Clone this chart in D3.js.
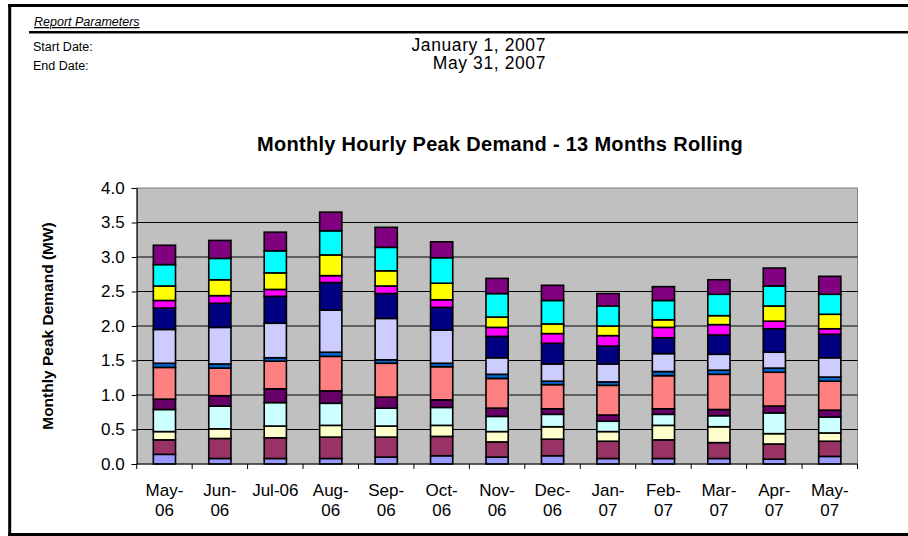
<!DOCTYPE html>
<html><head><meta charset="utf-8">
<script src="https://cdn.jsdelivr.net/npm/d3@7"></script>
<style>
html,body{margin:0;padding:0;background:#fff;}
svg{display:block;font-family:"Liberation Sans",Arial,sans-serif;}
</style></head>
<body>
<svg id="chart" width="908" height="536"></svg>
<script>
// ---- data ----
const categories = ["May-06","Jun-06","Jul-06","Aug-06","Sep-06","Oct-06","Nov-06","Dec-06","Jan-07","Feb-07","Mar-07","Apr-07","May-07"];
const tickLabels = [["May-","06"],["Jun-","06"],["Jul-06"],["Aug-","06"],["Sep-","06"],["Oct-","06"],["Nov-","06"],["Dec-","06"],["Jan-","07"],["Feb-","07"],["Mar-","07"],["Apr-","07"],["May-","07"]];
const yTicks = [0,0.5,1.0,1.5,2.0,2.5,3.0,3.5,4.0];
const seriesNames = ["Series 1","Series 2","Series 3","Series 4","Series 5","Series 6","Series 7","Series 8","Series 9","Series 10","Series 11","Series 12","Series 13"];
const series1  = [0.14,0.08,0.08,0.08,0.10,0.12,0.10,0.12,0.08,0.08,0.08,0.07,0.11];
const series2  = [0.21,0.29,0.30,0.31,0.29,0.28,0.22,0.24,0.25,0.27,0.23,0.22,0.22];
const series3  = [0.12,0.14,0.17,0.17,0.16,0.16,0.15,0.18,0.14,0.21,0.23,0.15,0.12];
const series4  = [0.32,0.33,0.34,0.32,0.26,0.26,0.22,0.18,0.15,0.16,0.16,0.30,0.23];
const series5  = [0.15,0.15,0.20,0.18,0.16,0.11,0.12,0.08,0.09,0.08,0.09,0.10,0.10];
const series6  = [0.46,0.40,0.40,0.50,0.49,0.48,0.43,0.35,0.43,0.48,0.51,0.49,0.42];
const series7  = [0.06,0.06,0.05,0.06,0.05,0.05,0.06,0.05,0.05,0.06,0.06,0.06,0.06];
const series8  = [0.49,0.53,0.50,0.61,0.60,0.48,0.24,0.25,0.26,0.26,0.23,0.23,0.28];
const series9  = [0.31,0.35,0.39,0.40,0.36,0.33,0.31,0.30,0.26,0.23,0.28,0.34,0.34];
const series10 = [0.11,0.11,0.10,0.10,0.11,0.11,0.13,0.14,0.15,0.15,0.15,0.11,0.08];
const series11 = [0.21,0.23,0.24,0.30,0.22,0.24,0.15,0.14,0.14,0.11,0.13,0.22,0.21];
const series12 = [0.31,0.31,0.32,0.35,0.34,0.37,0.34,0.34,0.29,0.28,0.31,0.29,0.29];
const series13 = [0.28,0.26,0.27,0.27,0.29,0.23,0.22,0.22,0.18,0.20,0.21,0.26,0.26];
const seriesValues = [series1,series2,series3,series4,series5,series6,series7,series8,series9,series10,series11,series12,series13];
const colors = ["#9999FF","#993366","#FFFFCC","#CCFFFF","#660066","#FF8080","#0066CC","#CCCCFF","#000080","#FF00FF","#FFFF00","#00FFFF","#800080"];

// ---- layout ----
const svg = d3.select("#chart");
svg.append("rect").attr("width",908).attr("height",536).attr("fill","#fff");

// frame lines
svg.append("line").attr("x1",8).attr("x2",908).attr("y1",5.5).attr("y2",5.5).attr("stroke","#000").attr("stroke-width",3);
svg.append("line").attr("x1",9.7).attr("x2",9.7).attr("y1",4).attr("y2",536).attr("stroke","#000").attr("stroke-width",3);
svg.append("line").attr("x1",8).attr("x2",908).attr("y1",534.5).attr("y2",534.5).attr("stroke","#000").attr("stroke-width",3);
svg.append("line").attr("x1",29).attr("x2",908).attr("y1",32).attr("y2",32).attr("stroke","#000").attr("stroke-width",2);
svg.append("line").attr("x1",29).attr("x2",908).attr("y1",33.5).attr("y2",33.5).attr("stroke","#888").attr("stroke-width",1);

// header text
svg.append("text").attr("x",34).attr("y",26).attr("font-size",12.5).attr("font-style","italic")
  .attr("text-decoration","underline").text("Report Parameters");
svg.append("text").attr("x",33).attr("y",51).attr("font-size",12.5).text("Start Date:");
svg.append("text").attr("x",33).attr("y",70).attr("font-size",12.5).text("End Date:");
svg.append("text").attr("x",546).attr("y",51).attr("font-size",17.5).attr("letter-spacing",0.6).attr("text-anchor","end").text("January 1, 2007");
svg.append("text").attr("x",546).attr("y",69).attr("font-size",17.5).attr("letter-spacing",0.6).attr("text-anchor","end").text("May 31, 2007");

// title
svg.append("text").attr("x",500).attr("y",151).attr("font-size",20).attr("font-weight","bold")
  .attr("letter-spacing",0.3).attr("text-anchor","middle")
  .text("Monthly Hourly Peak Demand - 13 Months Rolling");

// plot
const pLeft = 136.7, pRight = 857.5, pTop = 188, pBottom = 464;
const x = d3.scaleBand().domain(categories).range([pLeft,pRight]).paddingInner(0.6).paddingOuter(0.3);
const xb = d3.scaleBand().domain(categories).range([pLeft,pRight]).padding(0);
const y = d3.scaleLinear().domain([0,4]).range([pBottom,pTop]);

svg.append("rect").attr("x",pLeft).attr("y",pTop).attr("width",pRight-pLeft).attr("height",pBottom-pTop)
  .attr("fill","#C0C0C0").attr("stroke","#808080").attr("stroke-width",1);

// gridlines
svg.append("g").selectAll("line").data(yTicks.filter(d=>d>0 && d<4)).join("line")
  .attr("x1",pLeft).attr("x2",pRight).attr("y1",d=>y(d)).attr("y2",d=>y(d))
  .attr("stroke","#000").attr("stroke-width",1);

// stacked bars
const table = categories.map((c,i)=>{const o={cat:c}; seriesNames.forEach((s,j)=>o[s]=seriesValues[j][i]); return o;});
const stacked = d3.stack().keys(seriesNames)(table);
svg.append("g").selectAll("g").data(stacked).join("g")
  .attr("fill",(d,i)=>colors[i])
  .selectAll("rect").data(d=>d).join("rect")
  .attr("x",d=>x(d.data.cat)).attr("width",x.bandwidth())
  .attr("y",d=>y(d[1])).attr("height",d=>y(d[0])-y(d[1]))
  .attr("stroke","#000").attr("stroke-width",1.6);

// y axis
const yAxis = d3.axisLeft(y).tickValues(yTicks).tickFormat(d3.format(".1f")).tickSize(5).tickPadding(7);
const gy = svg.append("g").attr("transform",`translate(${pLeft},0)`).call(yAxis);
gy.select(".domain").attr("stroke","#000");
gy.selectAll(".tick line").attr("stroke","#000");
gy.selectAll("text").attr("font-size",17).attr("font-family","'Liberation Sans',Arial,sans-serif").attr("fill","#000");

// x axis
const gx = svg.append("g").attr("transform",`translate(0,${pBottom})`);
gx.append("line").attr("x1",pLeft).attr("x2",pRight).attr("y1",0).attr("y2",0).attr("stroke","#000");
const bounds = categories.map(c=>xb(c)).concat([pRight]);
gx.selectAll("line.tk").data(bounds).join("line").attr("class","tk")
  .attr("x1",d=>d).attr("x2",d=>d).attr("y1",0).attr("y2",5).attr("stroke","#000");
gx.selectAll("text").data(categories).join("text")
  .attr("x",d=>xb(d)+xb.bandwidth()/2).attr("y",32).attr("text-anchor","middle").attr("font-size",17)
  .each(function(d,i){
    const t=d3.select(this);
    tickLabels[i].forEach((ln,k)=>t.append("tspan").attr("x",xb(d)+xb.bandwidth()/2).attr("dy",k?20:0).text(ln));
  });

// y title
svg.append("text").attr("transform","translate(53,326) rotate(-90)").attr("text-anchor","middle")
  .attr("font-size",15.5).attr("font-weight","bold").text("Monthly Peak Demand (MW)");
</script>
</body></html>
